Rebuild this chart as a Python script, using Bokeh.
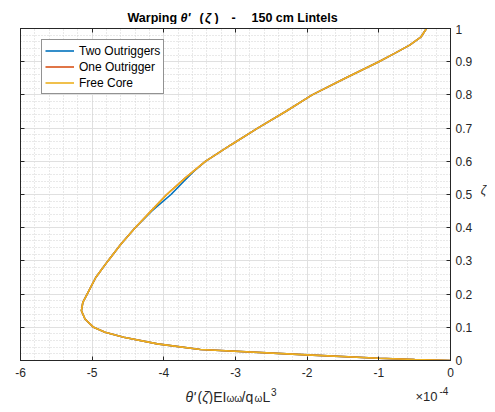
import numpy as np
from bokeh.plotting import figure
from bokeh.layouts import column, row
from bokeh.models import (Range1d, FixedTicker, LinearAxis, Label, Legend, LegendItem,
                          CustomJSTickFormatter)
from bokeh.embed import file_html
from bokeh.resources import INLINE

# ---------------- data (x in units of 1e-4) ----------------
zeta_free = [0.0, 0.003, 0.007, 0.017, 0.033, 0.05, 0.07, 0.085, 0.1, 0.125, 0.15, 0.175,
             0.2, 0.25, 0.3, 0.35, 0.4, 0.45, 0.5, 0.55, 0.6, 0.65, 0.7, 0.75, 0.8,
             0.85, 0.9, 0.925, 0.95, 0.975, 1.0]
theta_free = [0.0, -0.5, -1.0, -2.0, -3.49, -4.09, -4.56, -4.82, -4.98, -5.10, -5.15, -5.13,
              -5.07, -4.95, -4.78, -4.60, -4.40, -4.18, -3.96, -3.70, -3.42, -3.06, -2.69, -2.30, -1.93,
              -1.47, -1.0, -0.78, -0.57, -0.41, -0.335]

zeta_one = list(zeta_free)
theta_one = list(theta_free)

zeta_two = [0.0, 0.003, 0.007, 0.017, 0.033, 0.05, 0.07, 0.085, 0.1, 0.125, 0.15, 0.175,
            0.2, 0.25, 0.3, 0.35, 0.4, 0.45, 0.5, 0.54, 0.57, 0.6, 0.65, 0.7, 0.75, 0.8,
            0.85, 0.9, 0.925, 0.95, 0.975, 1.0]
theta_two = [0.0, -0.5, -1.0, -2.0, -3.49, -4.09, -4.56, -4.82, -4.98, -5.10, -5.15, -5.13,
             -5.07, -4.95, -4.78, -4.60, -4.40, -4.17, -3.90, -3.72, -3.58, -3.42, -3.06, -2.69, -2.30, -1.93,
             -1.47, -1.0, -0.78, -0.57, -0.41, -0.335]

series_names = ["Two Outriggers", "One Outrigger", "Free Core"]
series_colors = ["#0072BD", "#D95319", "#EDB120"]

x_ticks = [-6, -5, -4, -3, -2, -1, 0]
x_tick_labels = ["-6", "-5", "-4", "-3", "-2", "-1", "0"]
y_ticks = [0, 0.1, 0.2, 0.3, 0.4, 0.5, 0.6, 0.7, 0.8, 0.9, 1]
y_tick_labels = ["0", "0.1", "0.2", "0.3", "0.4", "0.5", "0.6", "0.7", "0.8", "0.9", "1"]

FONT = "Liberation Sans"
AX = "#262626"

# ---------------- layout sizes (page pixels) ----------------
TOP_H = 24                  # title strip
FRAME_W, FRAME_H = 430, 332
B_LEFT, B_RIGHT, B_TOP, B_BOTTOM = 20, 29, 4, 24
MAIN_W = B_LEFT + FRAME_W + B_RIGHT
MAIN_H = B_TOP + FRAME_H + B_BOTTOM
RIGHT_W = 8                 # strip for the zeta label
W = MAIN_W + RIGHT_W
BOT_H = 20                  # x-label strip
BASE_FIX = 4                # measured shift of label baselines

# ---------------- main figure ----------------
p = figure(frame_width=FRAME_W, frame_height=FRAME_H, output_backend="svg",
           toolbar_location=None, title_location=None,
           x_range=Range1d(-6, 0), y_range=Range1d(0, 1), y_axis_location="right",
           min_border_left=B_LEFT, min_border_right=B_RIGHT, min_border_top=B_TOP,
           min_border_bottom=B_BOTTOM)
p.background_fill_color = "white"
p.border_fill_color = "white"
p.outline_line_color = AX
p.outline_line_width = 1

x_minor = [round(v, 2) for v in np.arange(-6, 0.001, 0.2) if abs(v - round(v)) > 1e-6]
y_minor = [round(v, 3) for v in np.arange(0, 1.0001, 0.02) if abs(v * 10 - round(v * 10)) > 1e-6]
xt = FixedTicker(ticks=x_ticks, minor_ticks=x_minor)
yt = FixedTicker(ticks=y_ticks, minor_ticks=y_minor)

p.xaxis.ticker = xt
p.yaxis.ticker = yt
p.xaxis.major_label_overrides = {t: l for t, l in zip(x_ticks, x_tick_labels)}
p.yaxis.major_label_overrides = {t: l for t, l in zip(y_ticks, y_tick_labels)}

for ax in (p.xaxis[0], p.yaxis[0]):
    ax.axis_label = None
    ax.axis_label_standoff = 0
    ax.major_tick_in = 4
    ax.major_tick_out = 0
    ax.minor_tick_in = 0
    ax.minor_tick_out = 0
    ax.minor_tick_line_color = None
    ax.axis_line_color = AX
    ax.major_tick_line_color = AX
    ax.major_label_text_color = AX
    ax.major_label_text_font = FONT
    ax.major_label_text_font_size = "12px"
p.xaxis.major_label_standoff = 7
p.yaxis.major_label_standoff = 5

blank = CustomJSTickFormatter(code="return ''")
for loc, tk in (("above", xt), ("left", yt)):
    a = LinearAxis(ticker=tk, formatter=blank, axis_label=None, axis_label_standoff=0,
                   major_tick_in=4, major_tick_out=0, minor_tick_in=0, minor_tick_out=0,
                   major_label_standoff=0, major_label_text_font_size="0px",
                   minor_tick_line_color=None, axis_line_color=AX, major_tick_line_color=AX)
    p.add_layout(a, loc)

for g in (p.xgrid[0], p.ygrid[0]):
    g.grid_line_color = "#E0E0E0"
    g.grid_line_width = 1
    g.minor_grid_line_color = "#D2D2D2"
    g.minor_grid_line_dash = "1 2"
    g.minor_grid_line_width = 1
p.xgrid.ticker = xt
p.ygrid.ticker = yt

r_two = p.line(theta_two, zeta_two, line_color=series_colors[0], line_width=1.6)
r_one = p.line(theta_one, zeta_one, line_color=series_colors[1], line_width=1.6)
r_free = p.line(theta_free, zeta_free, line_color=series_colors[2], line_width=1.6)

legend = Legend(items=[LegendItem(label=series_names[0], renderers=[r_two]),
                       LegendItem(label=series_names[1], renderers=[r_one]),
                       LegendItem(label=series_names[2], renderers=[r_free])],
                location=(21, 266), orientation="vertical",
                border_line_color=AX, border_line_width=1, background_fill_color="white",
                background_fill_alpha=1.0, padding=3, spacing=1, margin=0,
                glyph_width=29, glyph_height=15, label_height=15, label_standoff=5,
                label_text_font=FONT, label_text_font_size="12px", label_text_color="black")
p.add_layout(legend)


# ---------------- text strips ----------------
def strip(w, h, y_range=None):
    f = figure(width=w, height=h, output_backend="svg", toolbar_location=None,
               title_location=None, x_range=Range1d(0, w),
               y_range=y_range if y_range is not None else Range1d(0, h),
               x_axis_type=None, y_axis_type=None,
               min_border_left=0, min_border_right=0, min_border_top=0, min_border_bottom=0)
    f.outline_line_color = None
    f.background_fill_color = "white"
    f.border_fill_color = "white"
    return f


def put(f, ox, oy, text, ix, iy, size, style="normal", align="left", color=AX):
    """ix, iy: page pixel position (left, baseline); ox, oy: strip origin on the page."""
    f.add_layout(Label(x=ix - ox, y=f.height - (iy - BASE_FIX - oy), text=text, text_font=FONT,
                       text_font_size=f"{size}px", text_font_style=style,
                       text_align=align, text_baseline="alphabetic", text_color=color))


top = strip(W, TOP_H)
for txt, ix, st in (("Warping", 127, "bold"), ("θ'", 180, "bold italic"), ("(", 199, "bold"),
                    ("ζ", 204.5, "bold italic"), (")", 214, "bold"), ("-", 231, "bold"),
                    ("150 cm Lintels", 251, "bold")):
    put(top, 0, 0, txt, ix, 21, 12.5, st, color="black")

bottom = strip(W, BOT_H)
BY = TOP_H + MAIN_H
put(bottom, 0, BY, "θ'", 185, 400, 14, "italic")
put(bottom, 0, BY, "(", 197, 400, 14)
put(bottom, 0, BY, "ζ", 201.7, 400, 14, "italic")
put(bottom, 0, BY, ")", 208, 400, 14)
put(bottom, 0, BY, "EI", 212.7, 400, 14)
put(bottom, 0, BY, "ωω", 226, 402, 10)
put(bottom, 0, BY, "/q", 241, 400, 14)
put(bottom, 0, BY, "ω", 254, 402, 10)
put(bottom, 0, BY, "L", 262, 400, 14)
put(bottom, 0, BY, "3", 270.5, 395, 10)
put(bottom, 0, BY, "×10", 415, 400, 13)
put(bottom, 0, BY, "-4", 439, 394, 10)

# right strip: its frame is aligned with the main frame, so its y axis is zeta
right = strip(RIGHT_W, MAIN_H, y_range=Range1d(0, 1))
right.add_layout(Label(x=RIGHT_W / 2, y=0.5, y_offset=5, text="ζ", text_font=FONT,
                       text_font_size="12px", text_font_style="italic", text_align="center",
                       text_baseline="alphabetic", text_color=AX))

layout = column(top, row(p, right), bottom)

open("out.html", "w").write(file_html(layout, INLINE))
